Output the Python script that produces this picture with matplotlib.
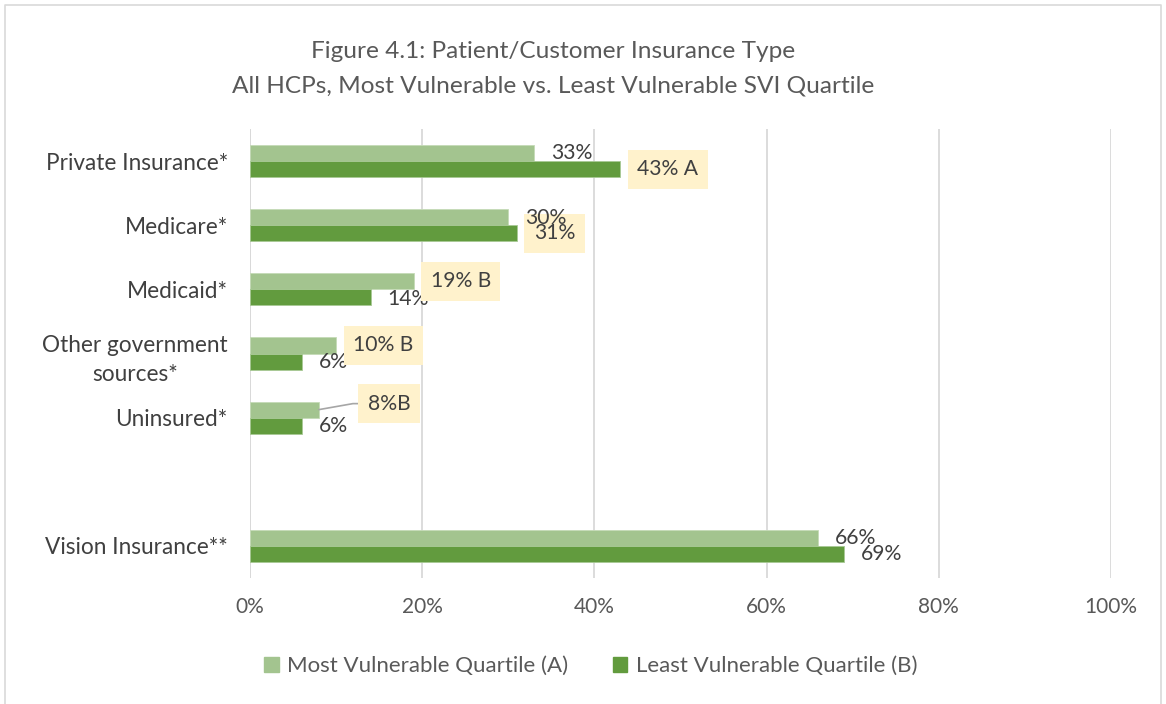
import matplotlib.pyplot as plt
from matplotlib.patches import Rectangle
from matplotlib.lines import Line2D

# --- data
categories = ["Private Insurance*", "Medicare*", "Medicaid*",
              "Other government\nsources*", "Uninsured*", "", "Vision Insurance**"]
most_vulnerable = [33, 30, 19, 10, 8, None, 66]
least_vulnerable = [43, 31, 14, 6, 6, None, 69]
# significance letters appended to the labels
most_sig = ["", "", " B", " B", "B", "", ""]
least_sig = [" A", "", "", "", "", "", ""]
x_ticks = [0, 20, 40, 60, 80, 100]
x_tick_labels = ["0%", "20%", "40%", "60%", "80%", "100%"]
series_names = ["Most Vulnerable Quartile (A)", "Least Vulnerable Quartile (B)"]

# which labels get the highlight box
most_boxed = [False, False, True, True, True, False, False]
least_boxed = [True, True, False, False, False, False, False]

light_green = "#A3C48F"
dark_green = "#629B3E"
text_color = "#404040"
box_color = "#FFF2CC"

plt.rcParams['font.family'] = ['Lato', 'DejaVu Sans']

fig = plt.figure(figsize=(11.66, 7.04), dpi=100)
ax = fig.add_axes([250 / 1166, 1 - 578 / 704, 861 / 1166, 449 / 704])

bar_h = 0.25
for i in range(len(categories)):
    if most_vulnerable[i] is None:
        continue
    ax.barh(i - bar_h / 2, most_vulnerable[i], height=bar_h, color=light_green,
            edgecolor="#C5DBB7", linewidth=0.6, zorder=3)
    ax.barh(i + bar_h / 2, least_vulnerable[i], height=bar_h, color=dark_green,
            edgecolor="#A8C995", linewidth=0.6, zorder=3)

ax.set_xlim(0, 100)
ax.set_ylim(len(categories) - 0.5, -0.5)
ax.set_yticks(range(len(categories)))
ax.set_yticklabels(categories, multialignment="center", linespacing=1.5)
ax.set_xticks(x_ticks)
ax.set_xticklabels(x_tick_labels)
ax.tick_params(length=0, labelcolor="#595959")
ax.tick_params(axis="x", pad=14, labelsize=15)
ax.tick_params(axis="y", pad=16, labelsize=16.3)
for lbl in ax.get_yticklabels():
    lbl.set_color(text_color)
ax.grid(axis="x", color="#D9D9D9", linewidth=1.3, zorder=0)
for s in ax.spines.values():
    s.set_visible(False)
ax.axvline(0, color="#D9D9D9", linewidth=1.3, zorder=1)

px = 0.72  # points per pixel at dpi 100
box = dict(boxstyle="square,pad=0.45", fc=box_color, ec="none")


def put_label(val, y, text, boxed, z, dx=17, dy=0):
    kw = dict(xy=(val, y), xytext=(dx * px, -dy * px), textcoords="offset points",
              ha="left", va="center", fontsize=15.2, color=text_color, zorder=z)
    if boxed:
        kw["bbox"] = box
    ax.annotate(text, **kw)


for i in range(len(categories)):
    if most_vulnerable[i] is None:
        continue
    ya = i - bar_h / 2
    yb = i + bar_h / 2
    a_text = f"{most_vulnerable[i]}%{most_sig[i]}"
    b_text = f"{least_vulnerable[i]}%{least_sig[i]}"
    if most_sig[i] == "B":
        # label pulled out with a leader line
        ax.annotate(a_text, xy=(most_vulnerable[i], ya), xytext=(49 * px, 6 * px),
                    textcoords="offset points", ha="left", va="center", fontsize=15.2,
                    color=text_color, zorder=6, bbox=box,
                    arrowprops=dict(arrowstyle="-", color="#A6A6A6", lw=1.2,
                                    connectionstyle="angle,angleA=0,angleB=10,rad=0",
                                    shrinkA=0, shrinkB=0))
    else:
        put_label(most_vulnerable[i], ya, a_text, most_boxed[i], 6, dy=1 if i == 1 else 0)
    put_label(least_vulnerable[i], yb, b_text, least_boxed[i], 5, dy=2 if i == 2 else 0)

fig.text(553 / 1166, 1 - 51 / 704, "Figure 4.1: Patient/Customer Insurance Type",
         ha="center", va="center", fontsize=17.6, color="#595959")
fig.text(553 / 1166, 1 - 86 / 704, "All HCPs, Most Vulnerable vs. Least Vulnerable SVI Quartile",
         ha="center", va="center", fontsize=17.6, color="#595959")

handles = [Rectangle((0, 0), 1, 1, color=light_green), Rectangle((0, 0), 1, 1, color=dark_green)]
leg = fig.legend(handles, series_names, loc="center", bbox_to_anchor=(591 / 1166, 1 - 666 / 704),
                 ncol=2, frameon=False, fontsize=16, handlelength=0.65, handleheight=0.65,
                 handletextpad=0.4, columnspacing=2.0)
for t in leg.get_texts():
    t.set_color("#595959")

# chart area border
fig.add_artist(Line2D([5 / 1166, 5 / 1166, 1161 / 1166, 1161 / 1166],
                      [0, 1 - 5 / 704, 1 - 5 / 704, 0], transform=fig.transFigure,
                      color="#D9D9D9", linewidth=1.2))

fig.savefig("out.png", dpi=100)
